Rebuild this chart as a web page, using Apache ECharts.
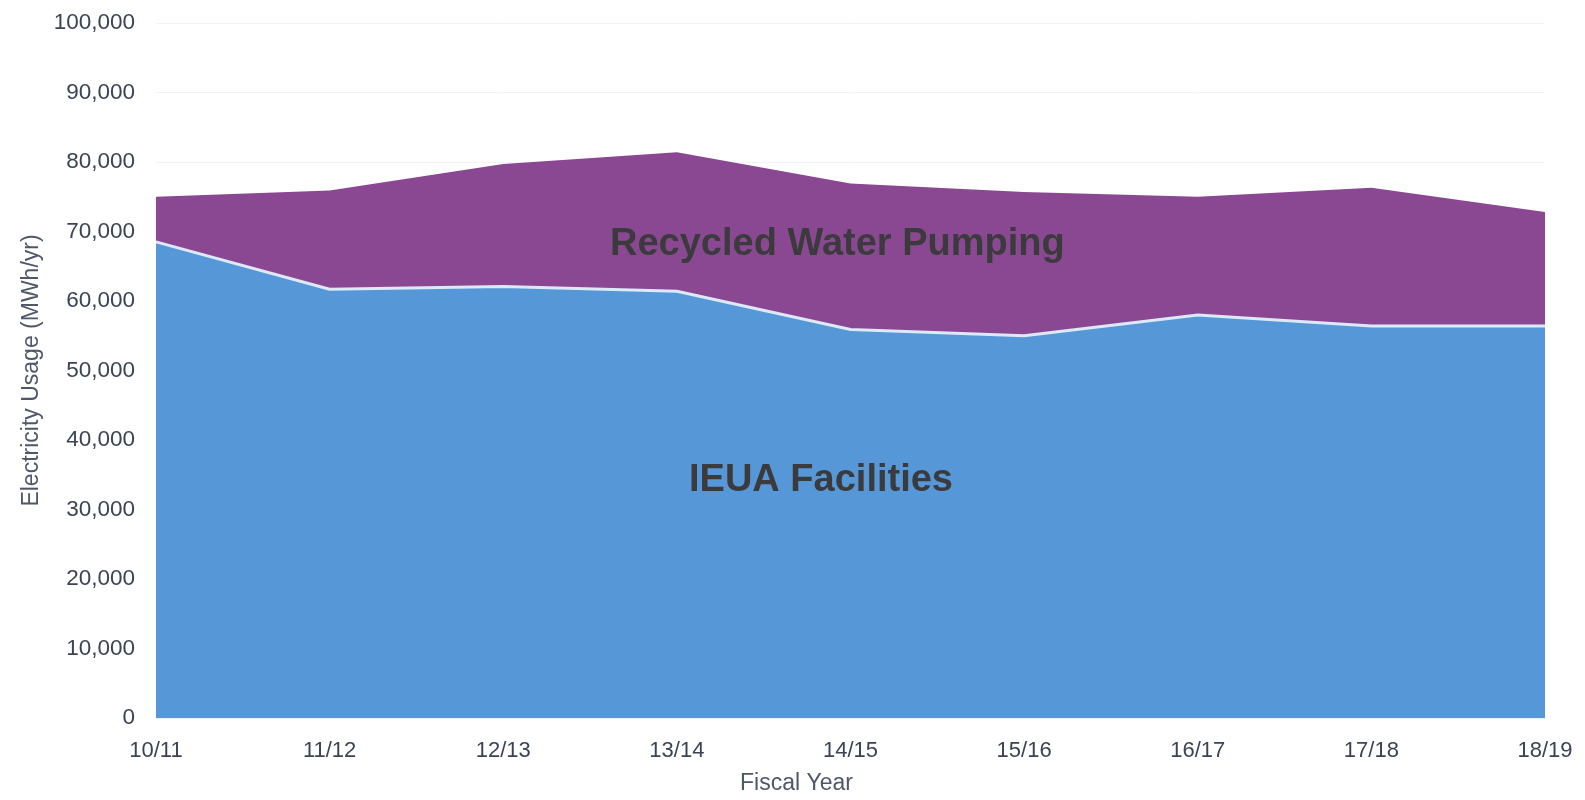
<!DOCTYPE html>
<html>
<head>
<meta charset="utf-8">
<style>
  html, body { margin: 0; padding: 0; background: #ffffff; }
  #chart { width: 1585px; height: 800px; }
</style>
<script src="https://cdn.jsdelivr.net/npm/echarts@6/dist/echarts.min.js"></script>
</head>
<body>
<div id="chart"></div>
<script>
const categories = ['10/11', '11/12', '12/13', '13/14', '14/15', '15/16', '16/17', '17/18', '18/19'];
const ieuaFacilities = [68500, 61700, 62100, 61400, 55900, 55000, 58000, 56400, 56400];
const recycledWaterPumping = [6500, 14200, 17600, 20000, 21000, 20700, 17000, 19900, 16400];
const yTicks = [0, 10000, 20000, 30000, 40000, 50000, 60000, 70000, 80000, 90000, 100000];

const FONT = '"Liberation Sans", Arial, sans-serif';
const chart = echarts.init(document.getElementById('chart'), null, { renderer: 'canvas' });

chart.setOption({
  backgroundColor: '#ffffff',
  animation: false,
  grid: { left: 156, right: 40, top: 23, bottom: 75, containLabel: false },
  xAxis: {
    type: 'category',
    data: categories,
    boundaryGap: false,
    axisTick: { show: false },
    axisLine: { show: true, lineStyle: { color: '#eef3f9', width: 2 } },
    axisLabel: { fontFamily: FONT, fontSize: 22, color: '#3a4456', margin: 22 },
    name: 'Fiscal Year',
    nameLocation: 'middle',
    nameGap: 54,
    nameTextStyle: { fontFamily: FONT, fontSize: 23, color: '#4f5869', padding: [0, 108, 0, 0] },
    splitLine: { show: false }
  },
  yAxis: {
    type: 'value',
    min: yTicks[0],
    max: yTicks[yTicks.length - 1],
    interval: yTicks[1] - yTicks[0],
    axisLine: { show: false },
    axisTick: { show: false },
    axisLabel: {
      fontFamily: FONT, fontSize: 22.5, color: '#3a4456', margin: 21,
      formatter: v => v.toLocaleString('en-US')
    },
    splitLine: { show: true, lineStyle: { color: '#f3f3f3', width: 1 } },
    name: 'Electricity Usage (MWh/yr)',
    nameLocation: 'middle',
    nameGap: 112,
    nameTextStyle: { fontFamily: FONT, fontSize: 23, color: '#4f5869' }
  },
  series: [
    {
      name: 'IEUA Facilities',
      type: 'line',
      stack: 'total',
      data: ieuaFacilities,
      symbol: 'none',
      z: 3,
      lineStyle: { color: '#dbe9f8', width: 3 },
      areaStyle: { color: '#5697d7', opacity: 1 }
    },
    {
      name: 'Recycled Water Pumping',
      type: 'line',
      stack: 'total',
      data: recycledWaterPumping,
      symbol: 'none',
      z: 2,
      lineStyle: { width: 0, color: '#8b4892' },
      areaStyle: { color: '#8b4892', opacity: 1 }
    }
  ],
  graphic: [
    {
      type: 'text',
      left: 610, top: 226,
      z: 10,
      style: {
        text: 'Recycled Water Pumping',
        font: 'bold 38px "Liberation Sans", Arial, sans-serif',
        fill: '#3b3b3d',
        shadowColor: 'rgba(0,0,0,0.45)', shadowBlur: 2, shadowOffsetX: 1, shadowOffsetY: 1
      }
    },
    {
      type: 'text',
      left: 689, top: 462,
      z: 10,
      style: {
        text: 'IEUA Facilities',
        font: 'bold 38px "Liberation Sans", Arial, sans-serif',
        fill: '#3b3b3d',
        shadowColor: 'rgba(0,0,0,0.25)', shadowBlur: 2, shadowOffsetX: 1, shadowOffsetY: 1
      }
    }
  ]
});
</script>
</body>
</html>
